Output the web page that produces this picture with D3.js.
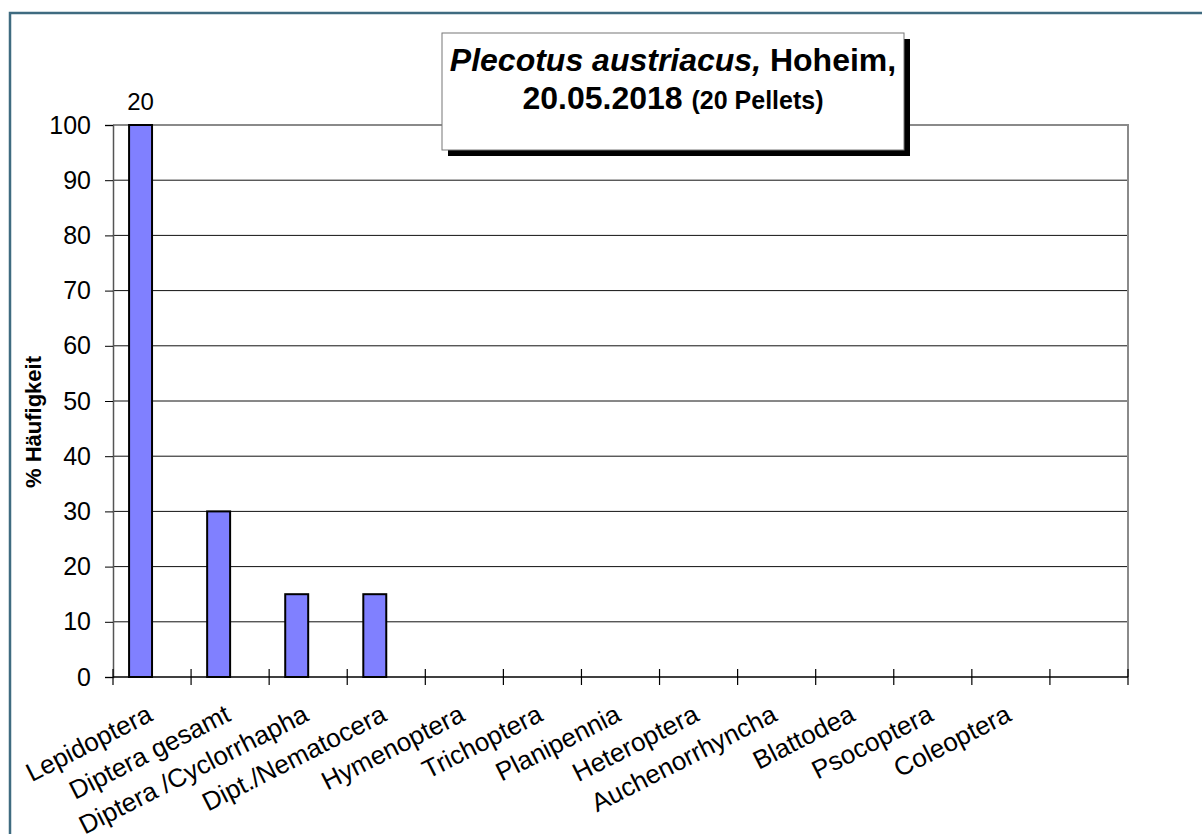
<!DOCTYPE html>
<html>
<head>
<meta charset="utf-8">
<script src="https://cdn.jsdelivr.net/npm/d3@7"></script>
<style>
  body { margin: 0; background: #fff; }
  svg { display: block; font-family: Arial, "Liberation Sans", sans-serif; }
</style>
</head>
<body>
<svg width="1202" height="834"></svg>
<script>
// data
var categories = ['Lepidoptera', 'Diptera gesamt', 'Diptera /Cyclorrhapha', 'Dipt./Nematocera',
  'Hymenoptera', 'Trichoptera', 'Planipennia', 'Heteroptera', 'Auchenorrhyncha',
  'Blattodea', 'Psocoptera', 'Coleoptera', ''];
var percent = [100, 30, 15, 15, 0, 0, 0, 0, 0, 0, 0, 0, 0];
var counts = ['20', '', '', '', '', '', '', '', '', '', '', '', ''];
var series = ['Häufigkeit', 'leer'];
var yTicks = [0, 10, 20, 30, 40, 50, 60, 70, 80, 90, 100];

(function() {
  var width = 1202;
  var height = 834;
  var plotLeft = 113, plotRight = 1128, plotTop = 125, plotBottom = 677;

  var svg = d3.select('svg');

  // outer frame
  svg.append('rect')
      .attr('x', 10)
      .attr('y', 13)
      .attr('width', width + 20)
      .attr('height', height + 20)
      .attr('fill', 'none')
      .attr('stroke', '#3f6b80')
      .attr('stroke-width', 2.5);

  var xScale = d3.scaleBand()
                 .domain(categories)
                 .range([plotLeft, plotRight]);

  var sScale = d3.scaleBand()
                 .domain(series)
                 .range([0, xScale.bandwidth()])
                 .paddingOuter(0.7);

  var yScale = d3.scaleLinear()
                 .domain([0, 100])
                 .range([plotBottom, plotTop]);

  // gridlines
  svg.append('g')
      .selectAll('line')
      .data(yTicks.filter(d => d > 0 && d < 100))
      .enter()
      .append('line')
        .attr('x1', plotLeft)
        .attr('x2', plotRight)
        .attr('y1', d => yScale(d))
        .attr('y2', d => yScale(d))
        .attr('stroke', '#111')
        .attr('stroke-width', 1);

  // plot area border (top + right)
  svg.append('path')
      .attr('d', 'M' + plotLeft + ',' + plotTop + 'H' + plotRight + 'V' + plotBottom)
      .attr('fill', 'none')
      .attr('stroke', '#8a8a8a')
      .attr('stroke-width', 2);

  // y axis
  var yAxis = svg.append('g')
      .attr('transform', 'translate(' + plotLeft + ',0)')
      .call(d3.axisLeft(yScale).tickValues(yTicks).tickSize(8).tickPadding(14));
  yAxis.select('.domain').attr('stroke', '#555').attr('stroke-width', 1.5);
  yAxis.selectAll('.tick line').attr('stroke', '#000');
  yAxis.selectAll('text')
      .attr('font-size', 25)
      .attr('fill', '#000')
      .attr('font-family', 'Arial, "Liberation Sans", sans-serif');

  // bars
  svg.append('g')
      .selectAll('rect')
      .data(categories.map((c, i) => ({ cat: c, value: percent[i] })).filter(d => d.value > 0))
      .enter()
      .append('rect')
        .attr('x', d => xScale(d.cat) + sScale(series[0]))
        .attr('y', d => yScale(d.value))
        .attr('width', sScale.bandwidth())
        .attr('height', d => yScale(0) - yScale(d.value))
        .attr('fill', '#8080ff')
        .attr('stroke', '#000')
        .attr('stroke-width', 2);

  // data labels
  svg.append('g')
      .selectAll('text')
      .data(categories.map((c, i) => ({ cat: c, value: percent[i], label: counts[i] })).filter(d => d.label))
      .enter()
      .append('text')
        .attr('x', d => xScale(d.cat) + sScale(series[0]) + sScale.bandwidth() / 2)
        .attr('y', d => yScale(d.value) - 15)
        .attr('text-anchor', 'middle')
        .attr('font-size', 24)
        .text(d => d.label);

  // x axis: ticks on band edges, crossing the axis
  var xEdges = categories.map(c => xScale(c)).concat([plotRight]);
  svg.append('line')
      .attr('x1', plotLeft)
      .attr('x2', plotRight)
      .attr('y1', plotBottom)
      .attr('y2', plotBottom)
      .attr('stroke', '#000')
      .attr('stroke-width', 1.5);
  svg.append('g')
      .selectAll('line')
      .data(xEdges)
      .enter()
      .append('line')
        .attr('x1', d => d)
        .attr('x2', d => d)
        .attr('y1', plotBottom - 8)
        .attr('y2', plotBottom + 8)
        .attr('stroke', '#000')
        .attr('stroke-width', 1.2);

  svg.append('g')
      .selectAll('text')
      .data(categories)
      .enter()
      .append('text')
        .attr('transform', d => 'translate(' + (xScale(d) + xScale.bandwidth() / 2 + 2) + ',' + (plotBottom + 43) + ') rotate(-27)')
        .attr('text-anchor', 'end')
        .attr('font-size', 26)
        .text(d => d);

  // y axis title
  svg.append('text')
      .attr('transform', 'translate(41,422) rotate(-90)')
      .attr('text-anchor', 'middle')
      .attr('font-size', 22)
      .attr('font-weight', 'bold')
      .text('% Häufigkeit');

  // title box with shadow
  svg.append('rect')
      .attr('x', 448)
      .attr('y', 39)
      .attr('width', 462)
      .attr('height', 117)
      .attr('fill', '#000');
  svg.append('rect')
      .attr('x', 442)
      .attr('y', 33)
      .attr('width', 462)
      .attr('height', 117)
      .attr('fill', '#fff')
      .attr('stroke', '#777')
      .attr('stroke-width', 1);

  var title = svg.append('text')
      .attr('x', 673)
      .attr('text-anchor', 'middle')
      .attr('font-weight', 'bold');
  var line1 = title.append('tspan').attr('x', 673).attr('y', 71).attr('font-size', 32);
  line1.append('tspan').attr('font-style', 'italic').text('Plecotus austriacus,');
  line1.append('tspan').text(' Hoheim,');
  var line2 = title.append('tspan').attr('x', 673).attr('y', 109);
  line2.append('tspan').attr('font-size', 32).text('20.05.2018 ');
  line2.append('tspan').attr('font-size', 25).text('(20 Pellets)');
})();
</script>
</body>
</html>
